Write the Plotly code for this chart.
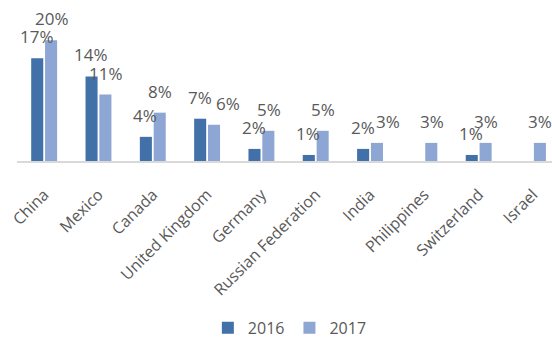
import plotly.graph_objects as go

countries = ["China", "Mexico", "Canada", "United Kingdom", "Germany",
             "Russian Federation", "India", "Philippines", "Switzerland", "Israel"]
share_2016 = [17, 14, 4, 7, 2, 1, 2, None, 1, None]
share_2017 = [20, 11, 8, 6, 5, 5, 3, 3, 3, 3]

color_2016 = "#4270A8"
color_2017 = "#8EA6D3"
text_color = "#595959"
font_family = "Open Sans, Liberation Sans, sans-serif"

# labels nudged sideways where neighbouring labels would collide
label_nudge_2017 = {"United Kingdom": 13, "India": 10}

fig = go.Figure()
fig.add_trace(go.Bar(name="2016", x=countries, y=share_2016,
                     marker=dict(color=color_2016, line=dict(width=0))))
fig.add_trace(go.Bar(name="2017", x=countries, y=share_2017,
                     marker=dict(color=color_2017, line=dict(width=0))))

# value labels centred over each bar of the pair
bar_offset = 7.5
annotations = []
for series, shift, nudge in ((share_2016, -bar_offset, {}),
                             (share_2017, bar_offset, label_nudge_2017)):
    for name, val in zip(countries, series):
        if val is None:
            continue
        annotations.append(dict(
            x=name, y=val, xref="x", yref="y", text=f"{val}%",
            showarrow=False, xanchor="center", yanchor="bottom",
            xshift=shift + nudge.get(name, 0), yshift=8,
            font=dict(family=font_family, size=17, color=text_color)))

fig.update_layout(
    width=552, height=337,
    margin=dict(l=17, r=0, t=10, b=176, autoexpand=False),
    paper_bgcolor="white", plot_bgcolor="white",
    barmode="group", bargap=0.49, bargroupgap=0.13,
    font=dict(family=font_family, color=text_color),
    showlegend=True,
    legend=dict(orientation="h", x=0.51, xanchor="center", y=-1.105, yanchor="middle",
                font=dict(family=font_family, size=16, color=text_color),
                itemwidth=30, traceorder="normal"),
    annotations=annotations,
    xaxis=dict(range=[-0.5, 9.35], showgrid=False, zeroline=False,
               showline=True, linecolor="#D9D9D9", linewidth=2,
               tickangle=-45, ticks="", ticklabelstandoff=16,
               tickfont=dict(family=font_family, size=16, color=text_color)),
    yaxis=dict(range=[0, 25], visible=False),
)

fig.write_html("out.html")
